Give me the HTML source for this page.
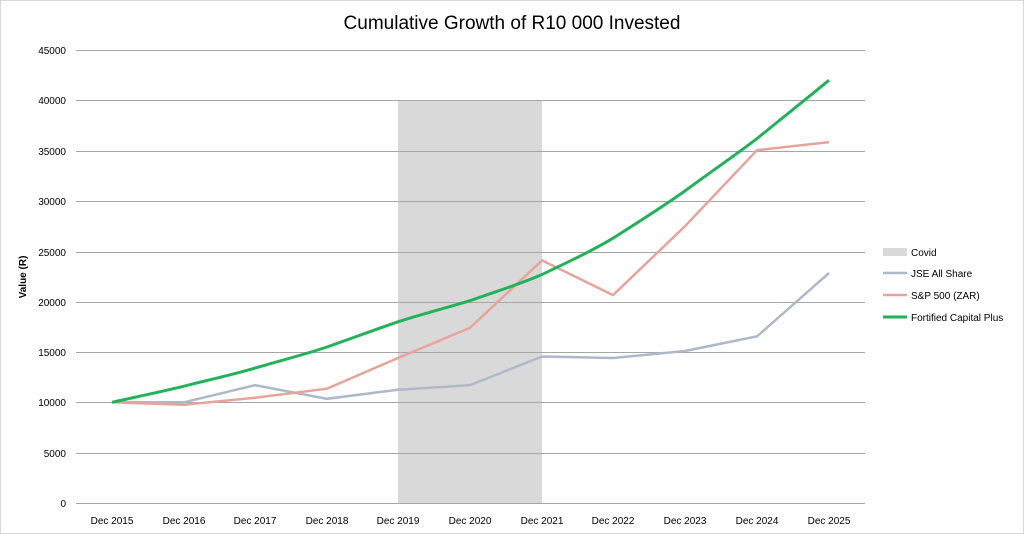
<!DOCTYPE html>
<html><head><meta charset="utf-8"><style>
html,body{margin:0;padding:0;background:#fff;}
svg{display:block;font-family:"Liberation Sans",sans-serif;}
</style></head><body>
<svg width="1024" height="534" viewBox="0 0 1024 534" xmlns="http://www.w3.org/2000/svg">
<rect x="0.5" y="0.5" width="1023" height="533" fill="#fff" stroke="#d9d9d9"/>
<text x="512" y="29" text-anchor="middle" font-size="19" fill="#000">Cumulative Growth of R10 000 Invested</text>
<rect x="398" y="101" width="144" height="402" fill="#d9d9d9"/>
<g stroke="#a6a6a6" stroke-width="1">
<line x1="76" x2="865" y1="50.5" y2="50.5"/><line x1="76" x2="865" y1="100.5" y2="100.5"/>
<line x1="76" x2="865" y1="151.5" y2="151.5"/><line x1="76" x2="865" y1="201.5" y2="201.5"/>
<line x1="76" x2="865" y1="252.5" y2="252.5"/><line x1="76" x2="865" y1="302.5" y2="302.5"/>
<line x1="76" x2="865" y1="352.5" y2="352.5"/><line x1="76" x2="865" y1="402.5" y2="402.5"/>
<line x1="76" x2="865" y1="453.5" y2="453.5"/><line x1="76" x2="865" y1="503.5" y2="503.5"/>
</g>
<g font-size="10" fill="#000" text-anchor="end">
<text x="66" y="54">45000</text><text x="66" y="104">40000</text><text x="66" y="155">35000</text>
<text x="66" y="205">30000</text><text x="66" y="256">25000</text><text x="66" y="306">20000</text>
<text x="66" y="356">15000</text><text x="66" y="406">10000</text><text x="66" y="457">5000</text>
<text x="66" y="507">0</text>
</g>
<g font-size="10" fill="#000" text-anchor="middle">
<text x="112" y="524">Dec 2015</text><text x="184" y="524">Dec 2016</text><text x="255" y="524">Dec 2017</text>
<text x="327" y="524">Dec 2018</text><text x="398" y="524">Dec 2019</text><text x="470" y="524">Dec 2020</text>
<text x="542" y="524">Dec 2021</text><text x="613" y="524">Dec 2022</text><text x="685" y="524">Dec 2023</text>
<text x="757" y="524">Dec 2024</text><text x="829" y="524">Dec 2025</text>
</g>
<text transform="translate(26,277) rotate(-90)" text-anchor="middle" font-size="10" font-weight="bold">Value (R)</text>
<polyline fill="none" stroke="#adb9ca" stroke-width="2.5" points="112,402.3 184,402.3 255,385.2 327,398.8 398,389.7 470,385.2 542,356.5 613,358 685,351 757,336.4 829,273"/>
<polyline fill="none" stroke="#e6a49a" stroke-width="2.5" points="112,402.3 184,404.8 255,397.8 327,388.7 398,358 470,327.8 542,260.4 613,295.1 685,226.2 757,150.2 829,142.1"/>
<path fill="none" stroke="#22b25a" stroke-width="3" d="M112,402.3 C136,397 160,392 184,386.2 C208,380 232,375 255,368.1 C279,361 303,355 327,347 C350,339 374,330 398,321.8 C422,314 446,308 470,300.7 C494,292 518,285 542,274.5 C566,263 590,252 613,238.2 C637,223 661,208 685,190.9 C709,173 733,157 757,138.6 C781,119 805,100 829,80.2"/>
<rect x="883" y="248" width="24" height="8" fill="#d9d9d9"/>
<line x1="883" x2="907" y1="273" y2="273" stroke="#adb9ca" stroke-width="2.5"/>
<line x1="883" x2="907" y1="295" y2="295" stroke="#e6a49a" stroke-width="2.5"/>
<line x1="883" x2="907" y1="317" y2="317" stroke="#22b25a" stroke-width="3"/>
<g font-size="10" fill="#000">
<text x="911" y="256">Covid</text><text x="911" y="277">JSE All Share</text>
<text x="911" y="299">S&amp;P 500 (ZAR)</text><text x="911" y="321">Fortified Capital Plus</text>
</g>
</svg>
</body></html>
